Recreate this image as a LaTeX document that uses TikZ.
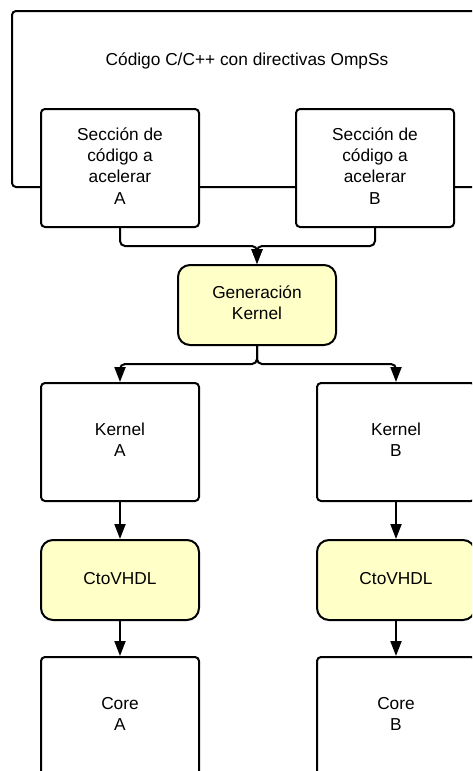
\documentclass[tikz,border=0pt]{standalone}
\usepackage{fontspec}
\setmainfont{Liberation Sans}
\usetikzlibrary{arrows.meta}
\definecolor{procfill}{RGB}{255,255,200}
\tikzset{
  box/.style={draw=black, line width=2pt, fill=white, rounded corners=4pt,
    minimum width=158pt, align=center, inner sep=0pt, text depth=4pt,
    font=\fontsize{17.3}{21.2}\selectfont},
  plainbox/.style={box, minimum height=118pt},
  procbox/.style={box, fill=procfill, rounded corners=12pt, minimum height=80pt},
  conn/.style={draw=black, line width=2pt, rounded corners=5pt},
  arrowconn/.style={conn, -{Triangle[width=11pt,length=15pt]}}
}
\begin{document}
\begin{tikzpicture}[x=1pt,y=-1pt]
  \useasboundingbox (0,0) rectangle (472,771);
  \clip (0,0) rectangle (472,771);

  % source program frame
  \node[draw=black, line width=2pt, rounded corners=4pt, inner sep=0pt,
        minimum width=478pt, minimum height=176pt] (src) at (251,99) {};
  \node[font=\fontsize{17.3}{21.2}\selectfont] (srclabel) at (247,61)
        {Código C/C++ con directivas OmpSs};

  % code sections to accelerate
  \node[plainbox] (secA) at (120,168) {Sección de\\código a\\acelerar\\A};
  \node[plainbox] (secB) at (375,168) {Sección de\\código a\\acelerar\\B};

  % kernel generation
  \node[procbox] (gen) at (257,305) {Generación\\Kernel};

  % kernels
  \node[plainbox] (kerA) at (120,442) {Kernel\\A};
  \node[plainbox] (kerB) at (396,442) {Kernel\\B};

  % C to VHDL translation
  \node[procbox] (vhdA) at (120,580) {CtoVHDL};
  \node[procbox] (vhdB) at (396,580) {CtoVHDL};

  % resulting cores
  \node[plainbox] (coreA) at (120,716) {Core\\A};
  \node[plainbox] (coreB) at (396,716) {Core\\B};

  % merge of both sections into kernel generation
  \coordinate (merge) at (257,246);
  \draw[arrowconn] (secA.south) |- (merge) -- (gen.north);
  \draw[arrowconn] (secB.south) |- (merge) -- (gen.north);

  % split into the two kernels
  \coordinate (split) at (257,364);
  \draw[arrowconn] (gen.south) -- (split) -| (kerA.north);
  \draw[arrowconn] (gen.south) -- (split) -| (kerB.north);

  % per-kernel pipelines
  \draw[arrowconn] (kerA.south) -- (vhdA.north);
  \draw[arrowconn] (kerB.south) -- (vhdB.north);
  \draw[arrowconn] (vhdA.south) -- (coreA.north);
  \draw[arrowconn] (vhdB.south) -- (coreB.north);
\end{tikzpicture}
\end{document}
